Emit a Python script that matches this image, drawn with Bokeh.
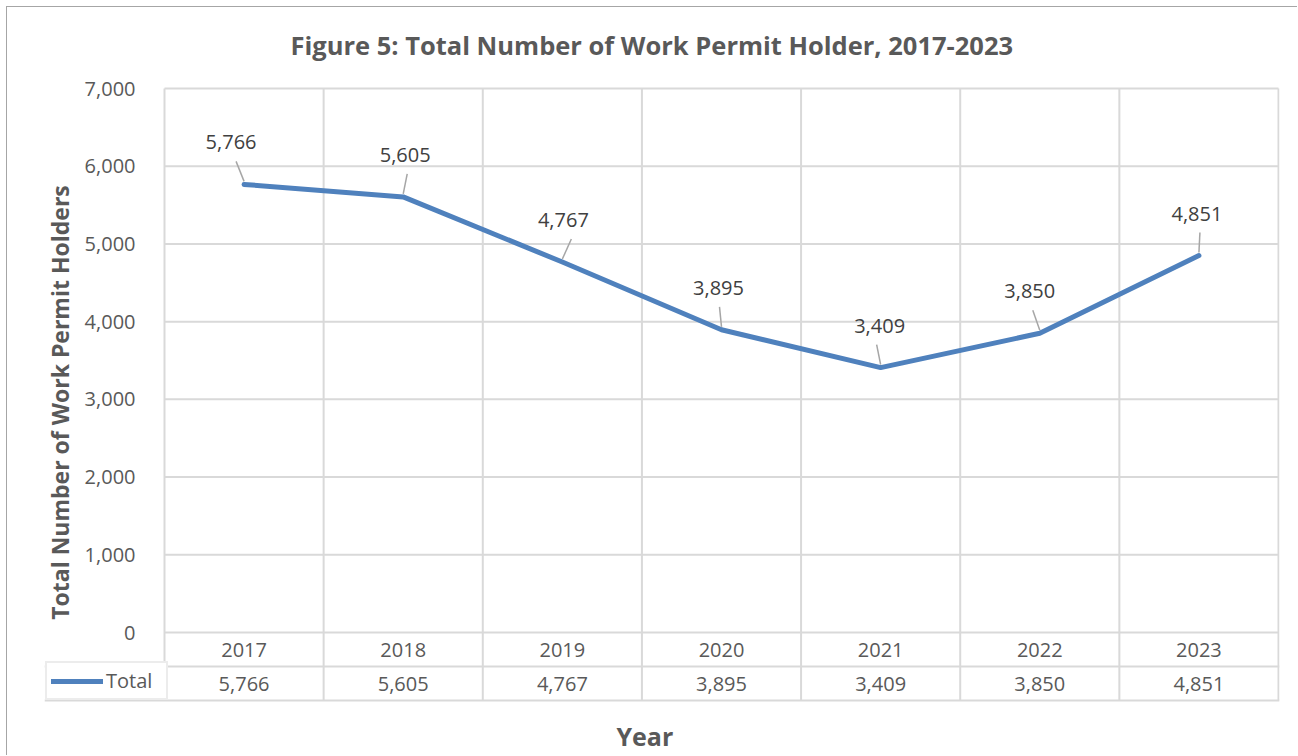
from bokeh.plotting import figure
from bokeh.models import (Range1d, FixedTicker, NumeralTickFormatter, Title,
                          Legend, LegendItem, ColumnDataSource)
from bokeh.core.properties import value
from bokeh.embed import file_html
from bokeh.resources import INLINE

# ---- data ----
years = ["2017", "2018", "2019", "2020", "2021", "2022", "2023"]
totals = [5766, 5605, 4767, 3895, 3409, 3850, 4851]
y_ticks = [0, 1000, 2000, 3000, 4000, 5000, 6000, 7000]

# ---- layout / style ----
label_dx = [-13, 2, 1, -3, -1, -10, -2]      # px shift of data labels
leader_dx = [-8, 4, 9, -2, -4, -7, 1]        # px shift of leader-line tops
FONT = "Open Sans"
TXT = "#595959"
LBL = "#404040"
GRID = "#d9d9d9"
BLUE = "#4f81bd"

n = len(years)
xs = list(range(n))
Y_MAX = y_ticks[-1]
PLOT_H = 544          # px of the 0..Y_MAX area
CAT_W = 1114 / n      # px per category
ROW_PX = 34           # px height of a table row
LEG_PX = 119          # px width of the legend cell left of the categories
TOP_PAD = 14          # px of empty frame above the top gridline
BOT_PAD = 16          # px of empty frame below the table
py = Y_MAX / PLOT_H   # data units per px (y)
px = 1 / CAT_W        # data units per px (x)
rh = ROW_PX * py      # table row height in data units
y_lo = -2 * rh        # bottom of the data table

p = figure(width=1291, height=749,
           x_range=Range1d(-0.5 - (LEG_PX + 1) * px, n - 0.5 + px),
           y_range=Range1d(y_lo - BOT_PAD * py, Y_MAX + TOP_PAD * py),
           output_backend="svg", toolbar_location=None,
           min_border_left=37, min_border_right=19,
           min_border_top=81 - TOP_PAD, min_border_bottom=56 - BOT_PAD)
p.styles = {"margin-left": "6px", "margin-top": "6px",
            "border-top": "1px solid #a6a6a6", "border-left": "1px solid #a6a6a6"}
p.background_fill_color = "white"
p.border_fill_color = "white"
p.outline_line_color = None

# title
p.title.text = "Figure 5: Total Number of Work Permit Holder, 2017-2023"
p.title.align = "left"
p.title.offset = 246
p.title.text_font = FONT
p.title.text_font_size = "25.5px"
p.title.text_font_style = "bold"
p.title.text_color = TXT
p.title.standoff = 26

# axes
p.xaxis.visible = False
yax = p.yaxis[0]
yax.fixed_location = -0.5
yax.bounds = (y_lo - BOT_PAD * py, Y_MAX)
yax.ticker = FixedTicker(ticks=y_ticks)
yax.formatter = NumeralTickFormatter(format="0,0")
yax.axis_line_color = None
yax.major_tick_line_color = None
yax.minor_tick_line_color = None
yax.major_label_text_font = FONT
yax.major_label_text_font_size = "20px"
yax.major_label_text_color = TXT
yax.major_label_standoff = 23
yax.axis_label = "Total Number of Work Permit Holders"
yax.axis_label_text_font = FONT
yax.axis_label_text_font_size = "23px"
yax.axis_label_text_font_style = "bold"
yax.axis_label_text_color = TXT
yax.axis_label_standoff = 6

# grid lines drawn only over the category columns / table
p.ygrid.visible = False
p.xgrid.visible = False
p.segment(x0=[-0.5] * len(y_ticks), x1=[n - 0.5] * len(y_ticks),
          y0=y_ticks, y1=y_ticks, line_color=GRID, line_width=2)
bounds_x = [i - 0.5 for i in range(n + 1)]
p.segment(x0=bounds_x, x1=bounds_x, y0=[y_lo] * (n + 1), y1=[Y_MAX] * (n + 1),
          line_color=GRID, line_width=2)

# table row lines
p.hspan(y=[-rh, y_lo], line_color=GRID, line_width=2)

# main line
src = ColumnDataSource(dict(
    x=xs, y=totals, lab=[f"{v:,}" for v in totals],
    dx=label_dx,
    x1=[x + d * px for x, d in zip(xs, leader_dx)],
    y0=[v + 3 * py for v in totals],
    y1=[v + 23 * py for v in totals],
))
r = p.line("x", "y", source=src, line_color=BLUE, line_width=5,
           line_cap="round", line_join="round")

# leader lines + data labels
p.segment(x0="x", y0="y0", x1="x1", y1="y1", source=src,
          line_color="#a6a6a6", line_width=1.5)
p.text(x="x", y="y", text="lab", source=src, x_offset="dx", y_offset=-42,
       text_align="center", text_baseline="middle",
       text_font=value(FONT), text_font_size="20px", text_color=LBL)

# data table
p.text(x=xs, y=[-rh / 2] * n, text=years,
       text_align="center", text_baseline="middle",
       text_font=value(FONT), text_font_size="20px", text_color=TXT)
p.text(x=xs, y=[-1.5 * rh] * n, text=[f"{v:,}" for v in totals],
       text_align="center", text_baseline="middle",
       text_font=value(FONT), text_font_size="20px", text_color=TXT)

legend = Legend(items=[LegendItem(label="Total", renderers=[r])],
                location=(1, BOT_PAD),
                border_line_color=GRID, border_line_width=2,
                background_fill_color="white", background_fill_alpha=1.0,
                padding=4, spacing=0, margin=0,
                glyph_width=52, glyph_height=20, label_standoff=3,
                label_width=56, label_height=26,
                label_text_font=FONT, label_text_font_size="20px",
                label_text_color=TXT)
p.add_layout(legend)

# x-axis title
p.add_layout(Title(text="Year", align="left", offset=572,
                   text_font=FONT, text_font_size="25px",
                   text_font_style="bold", text_color=TXT, standoff=1),
             "below")

open("out.html", "w").write(file_html(p, INLINE))
